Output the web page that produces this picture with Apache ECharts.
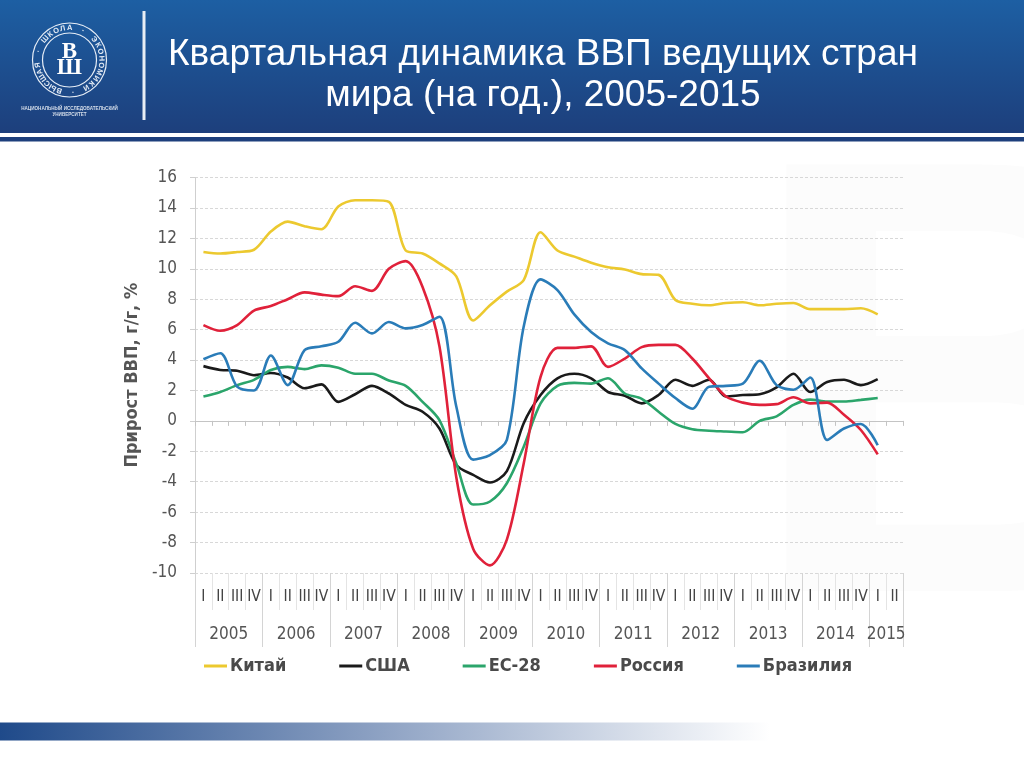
<!DOCTYPE html>
<html><head><meta charset="utf-8">
<style>html,body{margin:0;padding:0;background:#fff}#c{width:1024px;height:767px}</style>
<script src="https://cdn.jsdelivr.net/npm/echarts@6/dist/echarts.min.js"></script>
</head><body><div id="c"></div>
<script>
const years = ["2005","2006","2007","2008","2009","2010","2011","2012","2013","2014","2015"];
const quarterLabels = ["I","II","III","IV","I","II","III","IV","I","II","III","IV","I","II","III","IV","I","II","III","IV","I","II","III","IV","I","II","III","IV","I","II","III","IV","I","II","III","IV","I","II","III","IV","I","II"];
const china  = [11.1,11.0,11.1,11.25,12.45,13.1,12.8,12.6,14.1,14.5,14.5,14.4,11.2,11.0,10.35,9.5,6.6,7.6,8.5,9.25,12.4,11.2,10.8,10.4,10.1,9.95,9.65,9.6,7.95,7.7,7.6,7.75,7.8,7.6,7.7,7.75,7.35,7.35,7.35,7.4,7.0];
const usa    = [3.6,3.35,3.3,3.0,3.15,2.85,2.15,2.4,1.25,1.75,2.3,1.8,1.05,0.6,-0.5,-2.9,-3.55,-4.05,-3.3,-0.15,1.7,2.8,3.1,2.8,1.9,1.65,1.15,1.7,2.7,2.3,2.7,1.6,1.7,1.75,2.2,3.1,1.9,2.55,2.7,2.35,2.75];
const eu28   = [1.6,1.9,2.35,2.7,3.35,3.55,3.4,3.65,3.5,3.1,3.1,2.65,2.3,1.25,0.05,-2.8,-5.5,-5.3,-4.1,-1.7,1.15,2.3,2.5,2.45,2.8,1.8,1.45,0.6,-0.2,-0.55,-0.65,-0.7,-0.75,0,0.3,1.05,1.4,1.27,1.27,1.38,1.5];
const russia = [6.3,5.93,6.3,7.25,7.55,8.0,8.45,8.3,8.2,8.85,8.55,10,10.5,8.8,4.9,-3.7,-8.4,-9.5,-7.8,-2.8,2.9,4.8,4.8,4.9,3.55,4.1,4.85,5.0,5.0,4.1,2.8,1.6,1.2,1.05,1.1,1.55,1.15,1.2,0.4,-0.6,-2.2];
const brazil = [4.05,4.45,2.25,2.0,4.3,2.35,4.65,4.9,5.2,6.45,5.75,6.5,6.08,6.3,6.85,0.95,-2.55,-2.25,-1.25,6.2,9.3,8.6,7.0,5.85,5.1,4.65,3.45,2.45,1.5,0.8,2.25,2.3,2.45,3.95,2.35,2.05,2.85,-1.25,-0.5,-0.2,-1.6];
const seriesNames = ["Китай","США","ЕС-28","Россия","Бразилия"];
const seriesColors = ["#ecc92f","#1a1a1a","#2ba56b","#e0213a","#2a7cb8"];
const seriesData = [china,usa,eu28,russia,brazil];
const titleText = "Квартальная динамика ВВП ведущих стран\nмира (на год.), 2005-2015";
const yAxisName = "Прирост ВВП, г/г, %";
const ringText = "ВЫСШАЯ · ШКОЛА · ЭКОНОМИКИ · ";
const uniText = ["НАЦИОНАЛЬНЫЙ ИССЛЕДОВАТЕЛЬСКИЙ","УНИВЕРСИТЕТ"];
const yearTicks = [0,4,8,12,16,20,24,28,32,36,40,42];
const yearCentres = [2,6,10,14,18,22,26,30,34,38,41];

const cond = "'DejaVu Sans Condensed','DejaVu Sans'";
const chart = echarts.init(document.getElementById('c'),null,{renderer:'canvas'});

const ring = Array.from(ringText).map((ch,i,arr)=>{
  const a = (i/arr.length)*2*Math.PI + 1.9;
  return {type:'text',x:69.5+32*Math.cos(a),y:60+32*Math.sin(a),rotation:-(a+Math.PI/2),
    style:{text:ch,fill:'#e6edf6',font:'bold 7.5px "Liberation Sans"',align:'center',verticalAlign:'middle'},z:12};
});

chart.setOption({
  animation:false,
  backgroundColor:'#ffffff',
  title:{text:titleText,left:538,top:29,textAlign:'center',
    textStyle:{color:'#fff',fontFamily:'"Liberation Sans"',fontWeight:'normal',fontSize:37,lineHeight:41}},
  graphic:[
    {type:'text',x:745,y:110,silent:true,z:-2,style:{text:'В',fill:'#fcfcfc',font:'bold 620px "Liberation Sans"'}},
    {type:'rect',shape:{x:0,y:0,width:1024,height:133},z:-1,style:{fill:new echarts.graphic.LinearGradient(0,0,0,1,[{offset:0,color:'#1d5fa3'},{offset:1,color:'#1d3f7c'}])}},
    {type:'rect',shape:{x:0,y:137,width:1024,height:4.5},z:-1,style:{fill:'#1d3f7c'}},
    {type:'rect',shape:{x:142.5,y:11,width:3,height:109},z:10,style:{fill:'#e8eef5'}},
    {type:'rect',shape:{x:0,y:722.5,width:770,height:18},z:-1,style:{fill:new echarts.graphic.LinearGradient(0,0,1,0,[{offset:0,color:'#1f4a8a'},{offset:0.5,color:'#8fa3c4'},{offset:1,color:'#ffffff'}])}},
    {type:'circle',shape:{cx:69.5,cy:60,r:37},z:11,style:{fill:'none',stroke:'#e6edf6',lineWidth:1.2}},
    {type:'circle',shape:{cx:69.5,cy:60,r:27},z:11,style:{fill:'none',stroke:'#e6edf6',lineWidth:1.2}},
    {type:'text',x:69.5,y:52,z:12,style:{text:'В',fill:'#fff',font:'bold 23px "Liberation Serif"',align:'center',verticalAlign:'middle'}},
    {type:'text',x:69.5,y:68,z:12,style:{text:'Ш',fill:'#fff',font:'bold 23px "Liberation Serif"',align:'center',verticalAlign:'middle'}},
    ...ring,
    {type:'text',x:69.5,y:108.5,z:12,style:{text:uniText[0],fill:'#d5deea',font:'bold 4.6px "Liberation Sans"',align:'center',verticalAlign:'middle'}},
    {type:'text',x:69.5,y:114.5,z:12,style:{text:uniText[1],fill:'#d5deea',font:'bold 4.6px "Liberation Sans"',align:'center',verticalAlign:'middle'}}
  ],
  legend:{left:199,top:652,itemWidth:23,itemHeight:3,itemGap:53,icon:'rect',
    data:seriesNames,
    textStyle:{fontFamily:cond,fontSize:18,fontWeight:'bold',color:'#4a4a4a',padding:[0,0,0,-2]}},
  grid:{left:195,right:121,top:177.5,bottom:194,containLabel:false},
  yAxis:{type:'value',min:-10,max:16,interval:2,
    name:yAxisName,nameLocation:'middle',nameRotate:90,nameGap:46,
    nameTextStyle:{fontFamily:cond,fontSize:18,fontWeight:'bold',color:'#555'},
    axisLine:{show:true,onZero:false,lineStyle:{color:'#cfcfcf'}},
    axisTick:{show:true,length:5,lineStyle:{color:'#cfcfcf'}},
    axisLabel:{fontFamily:cond,fontSize:17,color:'#555',margin:18},
    splitLine:{show:true,lineStyle:{color:'#d8d8d8',type:[3,2],width:1}}},
  xAxis:[
    {type:'category',data:quarterLabels,position:'bottom',boundaryGap:true,
     axisLine:{show:false,onZero:false},
     axisTick:{show:true,length:37,lineStyle:{color:'#e4e4e4'}},
     axisLabel:{interval:0,hideOverlap:false,margin:16,fontFamily:cond,fontSize:15.5,color:'#444'}},
    {type:'value',min:0,max:42,position:'bottom',
     axisLine:{show:false,onZero:false},splitLine:{show:false},
     axisTick:{show:true,length:74,customValues:yearTicks,lineStyle:{color:'#d4d4d4'}},
     axisLabel:{customValues:yearCentres,margin:53,fontFamily:cond,fontSize:17,color:'#555',
       formatter:v=>years[yearCentres.indexOf(v)]}},
    {type:'category',data:quarterLabels,boundaryGap:true,position:'bottom',
     axisLine:{show:true,onZero:true,lineStyle:{color:'#c4c4c4',width:1}},
     axisTick:{show:true,length:5,interval:0,lineStyle:{color:'#c4c4c4'}},
     axisLabel:{show:false}}
  ],
  series:seriesNames.map((n,i)=>({
    name:n,type:'line',xAxisIndex:0,yAxisIndex:0,data:seriesData[i],smooth:0.3,
    showSymbol:false,symbol:'none',
    lineStyle:{color:seriesColors[i],width:2.6},itemStyle:{color:seriesColors[i]}
  }))
});
</script></body></html>
